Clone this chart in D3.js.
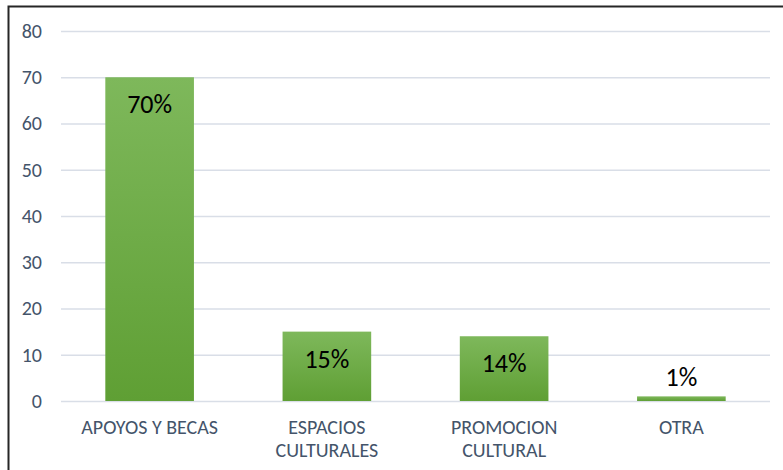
<!DOCTYPE html>
<html>
<head>
<meta charset="utf-8">
<script src="https://cdn.jsdelivr.net/npm/d3@7"></script>
<style>
  body { margin: 0; background: #fff; }
  svg { display: block; }
</style>
</head>
<body>
<script>
// data
let categories = [["APOYOS Y BECAS"], ["ESPACIOS", "CULTURALES"], ["PROMOCION", "CULTURAL"], ["OTRA"]];
let values = [70, 15, 14, 1];
let labels = ["70%", "15%", "14%", "1%"];
let yTicks = [0, 10, 20, 30, 40, 50, 60, 70, 80];

let W = 783, H = 470;
let margin = { top: 31, right: 13, bottom: 69, left: 61 },
  width = W - margin.left - margin.right,
  height = H - margin.top - margin.bottom;
let font = "Carlito, Calibri, Lato, sans-serif";

let svg = d3.select("body").append("svg")
  .attr("width", W)
  .attr("height", H);

// frame of the pasted chart
svg.append("path")
  .attr("d", "M8.5," + H + "V6.5H" + W)
  .attr("fill", "none")
  .attr("stroke", "#262626")
  .attr("stroke-width", 2);

let defs = svg.append("defs");
let grad = defs.append("linearGradient")
  .attr("id", "barGrad")
  .attr("x1", 0).attr("y1", 0).attr("x2", 0).attr("y2", 1);
grad.append("stop").attr("offset", "0%").attr("stop-color", "#7eb85b");
grad.append("stop").attr("offset", "100%").attr("stop-color", "#5f9f34");

let g = svg.append("g")
  .attr("transform", "translate(" + margin.left + "," + margin.top + ")");

let x = d3.scaleBand()
  .domain(d3.range(categories.length))
  .range([0, width])
  .paddingInner(0.5)
  .paddingOuter(0.25);

let y = d3.scaleLinear()
  .domain([0, 80])
  .range([height, 0]);

// y axis with gridlines
g.append("g")
  .attr("class", "axis")
  .call(d3.axisLeft(y)
    .tickValues(yTicks)
    .tickSize(-width)
    .tickPadding(19))
  .call(a => a.select(".domain").remove())
  .call(a => a.selectAll("line").attr("stroke", "#d9dee7").attr("stroke-width", 1.5))
  .call(a => a.selectAll("text")
    .attr("fill", "#44546a")
    .attr("font-family", font)
    .attr("font-size", 20));

// bars
g.selectAll("rect.bar")
  .data(values)
  .enter().append("rect")
  .attr("class", "bar")
  .attr("x", (d, i) => x(i))
  .attr("width", x.bandwidth())
  .attr("y", d => y(d))
  .attr("height", d => y(0) - y(d))
  .attr("fill", "url(#barGrad)");

// data labels
g.selectAll("text.val")
  .data(values)
  .enter().append("text")
  .attr("class", "val")
  .attr("x", (d, i) => x(i) + x.bandwidth() / 2)
  .attr("y", d => (y(0) - y(d)) > 40 ? y(d) + 27 : y(d) - 19)
  .attr("dy", "0.35em")
  .attr("text-anchor", "middle")
  .attr("fill", "#000")
  .attr("font-family", font)
  .attr("font-size", 26)
  .text((d, i) => labels[i]);

// category labels
let cat = g.selectAll("text.cat")
  .data(categories)
  .enter().append("text")
  .attr("class", "cat")
  .attr("x", (d, i) => x(i) + x.bandwidth() / 2)
  .attr("y", height + 26)
  .attr("text-anchor", "middle")
  .attr("fill", "#44546a")
  .attr("font-family", font)
  .attr("font-size", 20);
cat.selectAll("tspan")
  .data(d => d)
  .enter().append("tspan")
  .attr("x", function () { return d3.select(this.parentNode).attr("x"); })
  .attr("dy", (d, i) => i === 0 ? 7 : 23)
  .text(d => d);
</script>
</body>
</html>
